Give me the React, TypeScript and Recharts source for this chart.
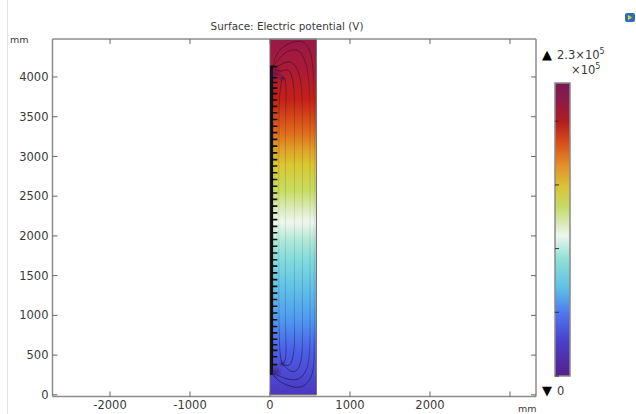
import {
  Bar,
  ComposedChart,
  Line,
  ReferenceArea,
  ReferenceDot,
  XAxis,
  YAxis,
} from "recharts";

const FONT = '"DejaVu Sans", sans-serif';
const TEXT_COLOR = "#3a3a3a";
const FRAME_COLOR = "#8c8c8c";

// axes (mm)
const X_DOMAIN = [-2719, 3325];
const Y_DOMAIN = [-21, 4478];
const X_TICKS = [-2000, -1000, 0, 1000, 2000, 3000];
const Y_TICKS = [0, 500, 1000, 1500, 2000, 2500, 3000, 3500, 4000];

// geometry of the domain
const DOMAIN_X = [0, 580];
const DOMAIN_Y = [0, 4478];
const SPINE_X = 20;
const SPINE_TOP = 4145;
const SPINE_BOTTOM = 250;
const TOOTH_END = 92;

const COMB_Y = [
  4130, 3990, 3930, 3860, 3790, 3710, 3630, 3550, 3465, 3380, 3300, 3215, 3130,
  3045, 2960, 2880, 2795, 2710, 2625, 2540, 2460, 2375, 2290, 2205, 2120, 2040,
  1955, 1870, 1785, 1700, 1620, 1535, 1450, 1365, 1280, 1200, 1115, 1030, 945,
  860, 780, 700, 630, 560, 480, 380,
];

// contours: bottom end, up the length, top end
const CONTOUR_A = [
  [37, 252], [130, 165], [290, 100], [430, 120], [525, 260], [552, 520], [552, 900], [552, 1300], [552, 1700], [552, 2200],
  [552, 2800], [552, 3300], [552, 3650], [545, 3950], [530, 4170], [480, 4370], [358, 4450], [200, 4400], [90, 4290], [37, 4138],
];
const CONTOUR_B = [
  [46, 272], [170, 215], [320, 190], [430, 270], [485, 450], [500, 800], [500, 1300], [500, 1800], [500, 2200],
  [500, 2700], [500, 3200], [500, 3600], [485, 3950], [440, 4190], [350, 4330], [220, 4320], [125, 4243], [46, 4138],
];
const CONTOUR_C = [
  [150, 390], [240, 310], [320, 300], [385, 420], [405, 700], [405, 1100], [405, 1600], [405, 2200],
  [405, 2900], [405, 3450], [395, 3830], [360, 4040], [300, 4160], [220, 4190], [140, 4160], [54, 4116],
];
const CONTOUR_D = [
  [150, 390], [230, 370], [280, 450], [305, 650], [305, 900], [305, 1300], [305, 1800], [305, 2200],
  [305, 2800], [305, 3300], [305, 3650], [295, 3880], [265, 4030], [215, 4090], [140, 4075], [58, 4096],
];
const CONTOUR_E = [
  [150, 390], [190, 440], [200, 600], [195, 850], [192, 1300], [192, 1800], [192, 2200],
  [192, 2800], [192, 3300], [198, 3650], [200, 3860], [185, 3975], [150, 3987],
];
const CONTOUR_F = [
  [150, 390], [125, 540], [115, 818], [110, 1300], [110, 2200], [110, 3000], [115, 3600], [130, 3850], [150, 3987],
];
const CONTOURS = [CONTOUR_A, CONTOUR_B, CONTOUR_C, CONTOUR_D, CONTOUR_E, CONTOUR_F];

// dark spots around the singular points
const SPOTS = [
  { x: 150, y: 3987, r: 4 },
  { x: 70, y: 4040, r: 7 },
  { x: 150, y: 390, r: 4 },
  { x: 70, y: 290, r: 7 },
];

// surface colours, top to bottom
const SURFACE_OFFSETS = [0, 0.09, 0.17, 0.26, 0.31, 0.355, 0.425, 0.48, 0.515, 0.565, 0.62, 0.705, 0.79, 0.87, 1];
const SURFACE_COLORS = [
  "#981848", "#ac1a34", "#c62018", "#df681c", "#e0a028", "#d9c932", "#c8dc60", "#dcecc0",
  "#f0f6ee", "#b2e8d8", "#82dcdc", "#60c0e8", "#5098f0", "#4c62e8", "#4c36c0",
];

// colour bar
const BAR_MAX = 2.3;
const BAR_TICKS = [0, 0.5, 1, 1.5, 2];
const BAR_OFFSETS = [0, 0.06, 0.13, 0.2, 0.28, 0.355, 0.42, 0.49, 0.52, 0.6, 0.7, 0.785, 0.88, 1];
const BAR_COLORS = [
  "#781a55", "#8e1a48", "#b01c20", "#d84a18", "#e48e28", "#d8c438", "#c6da62", "#dcecc4",
  "#eef6ee", "#90e0d4", "#5cc0e8", "#4f78f0", "#4a40cc", "#551f8c",
];
const BAR_DATA = [{ name: "", value: BAR_MAX }];

const toPoints = (pairs: number[][]) => pairs.map(([x, y]) => ({ x, y }));

const COMB_DATA = COMB_Y.flatMap((y) => [
  { x: SPINE_X, y },
  { x: TOOTH_END, y },
  { x: SPINE_X, y: null },
]);
const SPINE_DATA = [
  { x: SPINE_X, y: SPINE_BOTTOM },
  { x: SPINE_X, y: SPINE_TOP },
];

const NoLabel = () => <g />;

export default function App() {
  const axisLine = { stroke: FRAME_COLOR, strokeWidth: 1.5 };
  const tickLine = { stroke: "#666" };
  const tickStyle = { fill: TEXT_COLOR, fontSize: 11.5, fontFamily: FONT };

  return (
    <div style={{ position: "absolute", left: 0, top: 0, width: 636, height: 414, background: "#fff", overflow: "hidden", fontFamily: FONT, color: TEXT_COLOR }}>
      <div style={{ position: "absolute", left: 7, top: 0, width: 1, height: 414, background: "#e2e2e2" }} />

      {/* Main plot */}
      <div style={{ position: "absolute", left: 0, top: 0 }}>
        <ComposedChart width={636} height={414} margin={{ top: 0, right: 0, bottom: 0, left: 0 }}>
          <defs>
            <linearGradient id="surface" x1="0" y1="0" x2="0" y2="1">
              {SURFACE_OFFSETS.map((o, i) => (
                <stop key={o} offset={o} stopColor={SURFACE_COLORS[i]} />
              ))}
            </linearGradient>
            <linearGradient id="contourStroke" x1="0" y1="0" x2="0" y2="1">
              <stop offset={0} stopColor="#1a0a20" stopOpacity={0.5} />
              <stop offset={0.15} stopColor="#2a1a10" stopOpacity={0.24} />
              <stop offset={0.5} stopColor="#303030" stopOpacity={0.1} />
              <stop offset={0.85} stopColor="#101040" stopOpacity={0.24} />
              <stop offset={1} stopColor="#0a0a30" stopOpacity={0.55} />
            </linearGradient>
            <radialGradient id="spot">
              <stop offset={0} stopColor="#3a1060" stopOpacity={0.55} />
              <stop offset={1} stopColor="#3a1060" stopOpacity={0} />
            </radialGradient>
          </defs>

          <XAxis
            type="number"
            dataKey="x"
            domain={X_DOMAIN}
            ticks={X_TICKS}
            interval={0}
            allowDataOverflow
            height={17.5}
            tickSize={-5}
            tickMargin={9}
            tick={tickStyle}
            tickFormatter={(v) => (v === 3000 ? "" : String(v))}
            axisLine={axisLine}
            tickLine={tickLine}
          />
          <XAxis xAxisId="top" orientation="top" type="number" dataKey="x" domain={X_DOMAIN} ticks={X_TICKS} interval={0} allowDataOverflow height={39} tickSize={-5} tick={NoLabel} axisLine={axisLine} tickLine={tickLine} />
          <YAxis
            type="number"
            dataKey="y"
            domain={Y_DOMAIN}
            ticks={Y_TICKS}
            interval={0}
            allowDataOverflow
            width={52.5}
            tickSize={-5}
            tickMargin={9}
            tick={tickStyle}
            axisLine={axisLine}
            tickLine={tickLine}
          />
          <YAxis yAxisId="right" orientation="right" type="number" dataKey="y" domain={Y_DOMAIN} ticks={Y_TICKS} interval={0} allowDataOverflow width={100} tickSize={-5} tick={NoLabel} axisLine={axisLine} tickLine={tickLine} />

          <ReferenceArea x1={DOMAIN_X[0]} x2={DOMAIN_X[1]} y1={DOMAIN_Y[0]} y2={DOMAIN_Y[1]} fill="url(#surface)" fillOpacity={1} stroke="#6a6a6a" strokeWidth={1} />
          {SPOTS.map((s) => (
            <ReferenceDot key={`${s.x}-${s.y}`} x={s.x} y={s.y} r={s.r} fill="url(#spot)" stroke="none" />
          ))}

          {CONTOURS.map((c, i) => (
            <Line
              key={i}
              data={toPoints(c)}
              dataKey="y"
              type="natural"
              stroke="url(#contourStroke)"
              strokeWidth={1}
              dot={false}
              activeDot={false}
              legendType="none"
              isAnimationActive={false}
            />
          ))}
          <Line data={COMB_DATA} dataKey="y" type="linear" stroke="#111" strokeWidth={1.6} dot={false} activeDot={false} connectNulls={false} isAnimationActive={false} />
          <Line data={SPINE_DATA} dataKey="y" type="linear" stroke="#111" strokeWidth={3} dot={false} activeDot={false} isAnimationActive={false} />
        </ComposedChart>
      </div>

      {/* Colour bar */}
      <div style={{ position: "absolute", left: 550, top: 75 }}>
        <ComposedChart width={70} height={310} data={BAR_DATA} barCategoryGap={0} margin={{ top: 8, right: 5, bottom: 9, left: 0 }}>
          <defs>
            <linearGradient id="barFill" x1="0" y1="0" x2="0" y2="1">
              {BAR_OFFSETS.map((o, i) => (
                <stop key={o} offset={o} stopColor={BAR_COLORS[i]} />
              ))}
            </linearGradient>
          </defs>
          <XAxis dataKey="name" hide />
          <YAxis type="number" domain={[0, BAR_MAX]} ticks={BAR_TICKS} interval={0} width={5} axisLine={false} tickSize={-4} tick={NoLabel} tickLine={{ stroke: "#333" }} />
          <YAxis yAxisId="labels" orientation="right" type="number" domain={[0, BAR_MAX]} ticks={BAR_TICKS} interval={0} width={45} axisLine={false} tickSize={-4} tickMargin={12} tick={tickStyle} tickLine={{ stroke: "#333" }} />
          <Bar dataKey="value" fill="url(#barFill)" stroke="#8a8a8a" strokeWidth={1.5} isAnimationActive={false} />
        </ComposedChart>
      </div>

      {/* Title and labels */}
      <div style={{ position: "absolute", left: 0, top: 19, width: 574, textAlign: "center", fontSize: 10.4, lineHeight: "14px" }}>
        Surface: Electric potential (V)
      </div>
      <div style={{ position: "absolute", left: 10, top: 33, fontSize: 9.5, lineHeight: "13px" }}>mm</div>
      <div style={{ position: "absolute", left: 518, top: 402, fontSize: 9.5, lineHeight: "13px" }}>mm</div>
      <div style={{ position: "absolute", left: 542, top: 47, fontSize: 11.5, lineHeight: "16px", whiteSpace: "nowrap" }}>
        <span style={{ color: "#000", fontSize: 13, marginRight: 5 }}>▲</span>2.3×10<sup style={{ fontSize: 8, lineHeight: 0 }}>5</sup>
      </div>
      <div style={{ position: "absolute", left: 571, top: 62, fontSize: 11.5, lineHeight: "16px", whiteSpace: "nowrap" }}>
        ×10<sup style={{ fontSize: 8, lineHeight: 0 }}>5</sup>
      </div>
      <div style={{ position: "absolute", left: 542, top: 383, fontSize: 11.5, lineHeight: "16px", whiteSpace: "nowrap" }}>
        <span style={{ color: "#000", fontSize: 13, marginRight: 5 }}>▼</span>0
      </div>

      {/* Icon */}
      <svg style={{ position: "absolute", left: 624, top: 12 }} width={12} height={11}>
        <rect x={1} y={1} width={10} height={9} rx={2} fill="#2f6fb8" />
        <path d="M4 3 L8 5.5 L4 8 Z" fill="#f0d040" />
      </svg>
    </div>
  );
}
